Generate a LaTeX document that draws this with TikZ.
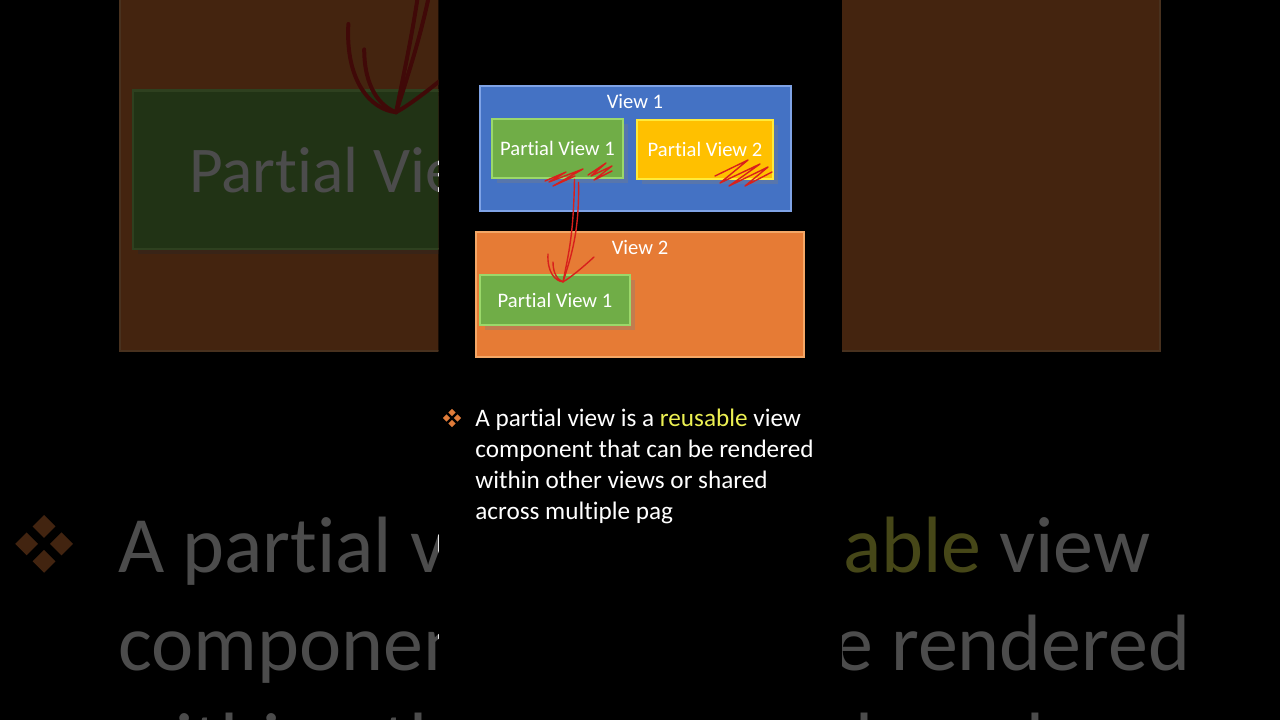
\documentclass[tikz,border=0pt]{standalone}
\usepackage{fontspec}
\setmainfont{Carlito}[Ligatures=NoCommon]
\usetikzlibrary{shadows,calc,positioning}

\definecolor{viewblue}{HTML}{4472C4}
\definecolor{viewblueedge}{HTML}{7FA3E6}
\definecolor{viewgreen}{HTML}{70AD47}
\definecolor{viewgreenedge}{HTML}{9BD86A}
\definecolor{viewyellow}{HTML}{FFC000}
\definecolor{viewyellowedge}{HTML}{FFEA3A}
\definecolor{vieworange}{HTML}{E67B35}
\definecolor{vieworangeedge}{HTML}{F4A766}
\definecolor{reuseyellow}{RGB}{236,240,82}
\definecolor{bulletorange}{HTML}{E07B39}
\definecolor{inkred}{HTML}{D8201C}

% the whole slide, drawn once dimmed behind and once sharp in the middle
\newcommand{\slidebody}{%
  % 1. the two views and their partial views
  \node [view_box, fill=viewblue, draw=viewblueedge,
    minimum width=155.5pt, minimum height=62.5pt] (view1) at (635.5,148.5) {};
  \node [view_title] (view1_t) at (635,101) {View 1};
  \node [partial_box, fill=viewgreen, draw=viewgreenedge,
    minimum width=65.5pt, minimum height=29.5pt] (pv1a) at (557.5,148.5) {Partial View 1};
  \node [partial_box, fill=viewyellow, draw=viewyellowedge,
    minimum width=68pt, minimum height=29.5pt] (pv2) at (705,149.5) {Partial View 2};
  %
  \node [view_box, fill=vieworange, draw=vieworangeedge,
    minimum width=164pt, minimum height=62.5pt] (view2) at (640,294.5) {};
  \node [view_title] (view2_t) at (640,247) {View 2};
  \node [partial_box, fill=viewgreen, draw=viewgreenedge,
    minimum width=75pt, minimum height=25pt] (pv1b) at (555,300) {Partial View 1};
  %
  % 2. the bullet text
  \foreach \dx/\dy in {0/-5.5,-5.5/0,5.5/0,0/5.5}
    \fill [bulletorange] ({452+\dx},{418+\dy}) +(0,-3.6) -- +(3.6,0) -- +(0,3.6) -- +(-3.6,0) -- cycle;
  \node [note_text] (note) at (475,409) {A partial view is a \textcolor{reuseyellow}{reusable} view\\
    component that can be rendered\\
    within other views or shared\\
    across multiple pag};
  %
  % 3. red pen marks
  \coordinate (tip) at ($(pv1b.north)+(8,8)$);
  \draw [ink_line] ($(pv1a.south)+(17,0)$) .. controls +(-1,55) and +(6,-30) .. (tip);
  \draw [ink_line] ($(pv1a.south)+(21,3)$) .. controls +(1,50) and +(8,-25) .. (tip);
  \draw [ink_line] (548,254) .. controls (547,272) and (555,281) .. (tip);
  \draw [ink_line] (553,262) .. controls (553,274) and (558,280) .. (tip);
  \draw [ink_line] (594,257) .. controls (582,268) and (570,278) .. (tip);
  % scribbles on the partial views
  \draw [ink_line] (545,181) -- (566,172) -- (549,182) -- (583,169) -- (553,186) -- (575,176);
  \draw [ink_line] (588,175) -- (606,163) -- (591,176) -- (612,166) -- (594,180) -- (612,171);
  \draw [ink_line] (715,176) -- (748,160) -- (720,183) -- (760,164) -- (729,186) -- (768,167) -- (745,186) -- (772,172);
}

\begin{document}
\begin{tikzpicture}[x=0.5pt, y=-0.5pt,
      view_box/.style ={rectangle, line width=1pt, inner sep=0pt},
      partial_box/.style ={rectangle, line width=1.2pt, inner sep=0pt,
        text=white, font=\fontsize{10.3}{12}\selectfont,
        drop shadow={shadow xshift=2.5pt, shadow yshift=-2.5pt, opacity=0.35}},
      view_title/.style ={text=white, inner sep=0pt,
        font=\fontsize{10.3}{12}\selectfont},
      note_text/.style ={text=white, align=left, anchor=north west,
        inner sep=0pt, font=\fontsize{12.6}{15.5}\selectfont},
      ink_line/.style ={draw=inkred, line width=0.7pt, line cap=round,
        line join=round}]
    %
    \useasboundingbox (0,0) rectangle (1280,720);
    \fill [black] (0,0) rectangle (1280,720);
    %
    % enlarged, dimmed copy at both sides
    \begin{scope}
      \clip (0,0) rectangle (438,720) (842,0) rectangle (1280,720);
      \begin{scope}[shift={(640,360)}, scale=3.17, shift={(-640,-360)},
          every node/.append style={transform shape},
          ink_line/.append style={line width=2pt}]
        \slidebody
      \end{scope}
      \fill [black, opacity=0.7] (0,0) rectangle (1280,720);
    \end{scope}
    %
    % the sharp slide in the middle
    \slidebody
\end{tikzpicture}
\end{document}
